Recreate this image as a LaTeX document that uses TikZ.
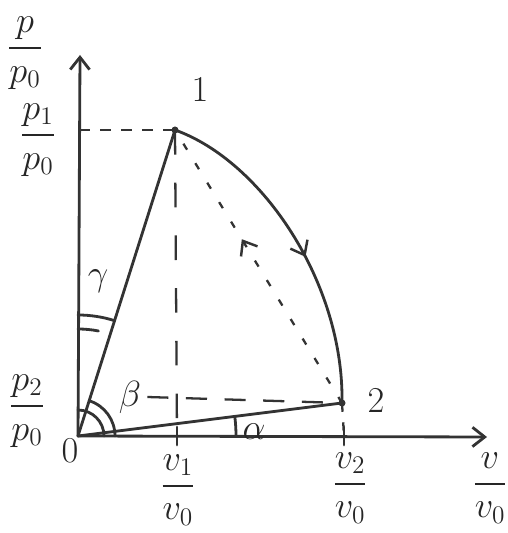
\documentclass[tikz,border=0pt]{standalone}
\usepackage{amsmath,amssymb}
\usepackage{tikz}
\usetikzlibrary{positioning,arrows.meta,calc,decorations.markings}
\usepackage{xcolor}

\tikzset{
  pen/.style={line width=1.6pt, draw=black!80, line cap=round},
  guide/.style={line width=1.3pt, draw=black!80, dash pattern=on 6pt off 6pt},
  lbl/.style={text=black!85, font=\huge},
  midarrow/.style={postaction={decorate, decoration={markings,
      mark=at position #1 with {\arrow[line width=1.4pt, black!80]{Straight Barb[length=7pt,width=11pt]}}}}},
}

\begin{document}
\begin{tikzpicture}[>={Straight Barb[length=7pt,width=11pt]}, x=0.02cm, y=0.02cm]
    \useasboundingbox (0,0) rectangle (507,533);

    \coordinate (O) at (78,97);
    \coordinate (ytop) at (80,478);
    \coordinate (xend) at (487,96);
    \coordinate (s1) at (175,403);
    \coordinate (s2) at (342,130);
    \coordinate (v1) at (177,97);
    \coordinate (v2) at (344,97);
    \coordinate (p1) at (79,403);

    \draw[pen, ->] (O) -- (ytop);
    \draw[pen, ->] (O) -- (xend);

    \draw[pen] (O) -- (s1);
    \draw[pen] (O) -- (s2);
    \draw[pen, midarrow=0.55] (s1) .. controls (262,372) and (344,250) .. (s2);

    \draw[guide] (p1) -- (s1);
    \draw[guide, dash pattern=on 14pt off 16pt] (s1) -- (v1);
    \draw[guide, dash pattern=on 4pt off 9pt, midarrow=0.6] (s2) -- (s1);
    \draw[guide, dash pattern=on 5pt off 6pt] (s2) -- (v2);

    \foreach \v in {v1,v2} {
        \draw[pen] ($(\v)+(0,-9)$) -- ($(\v)+(0,9)$);
    }
    \fill[black!80] (s1) circle (3.5) (s2) circle (3.5);

    \draw[pen] ([shift=(0:37)]O) arc[start angle=0, end angle=72.4, radius=37];
    \draw[pen] ([shift=(0:26)]O) arc[start angle=0, end angle=90, radius=26];
    \draw[pen] ([shift=(72.4:121)]O) arc[start angle=72.4, end angle=90, radius=121];
    \draw[pen] ([shift=(79:107)]O) arc[start angle=79, end angle=90, radius=107];
    \draw[pen] ([shift=(0:158)]O) arc[start angle=0, end angle=7.1, radius=158];

    \node[lbl] (pp0) at (25,480) {$\dfrac{p}{p_0}$};
    \node[lbl] (p1p0) at (38,393) {$\dfrac{p_1}{p_0}$};
    \node[lbl] (p2p0) at (27,122) {$\dfrac{p_2}{p_0}$};
    \node[lbl] (zero) at (70,82) {$0$};
    \node[lbl] (v1v0) at (178,43) {$\dfrac{v_1}{v_0}$};
    \node[lbl] (v2v0) at (350,45) {$\dfrac{v_2}{v_0}$};
    \node[lbl] (vv0) at (490,45) {$\dfrac{v}{v_0}$};
    \node[lbl] (one) at (200,443) {$1$};
    \node[lbl] (two) at (376,132) {$2$};
    \node[lbl] (beta) at (130,136) {$\beta$};
    \node[lbl] (gamma) at (98,252) {$\gamma$};
    \node[lbl] (alpha) at (254,101) {$\alpha$};

    \draw[guide, dash pattern=on 12pt off 10pt] (beta.east) -- (s2);
\end{tikzpicture}
\end{document}
